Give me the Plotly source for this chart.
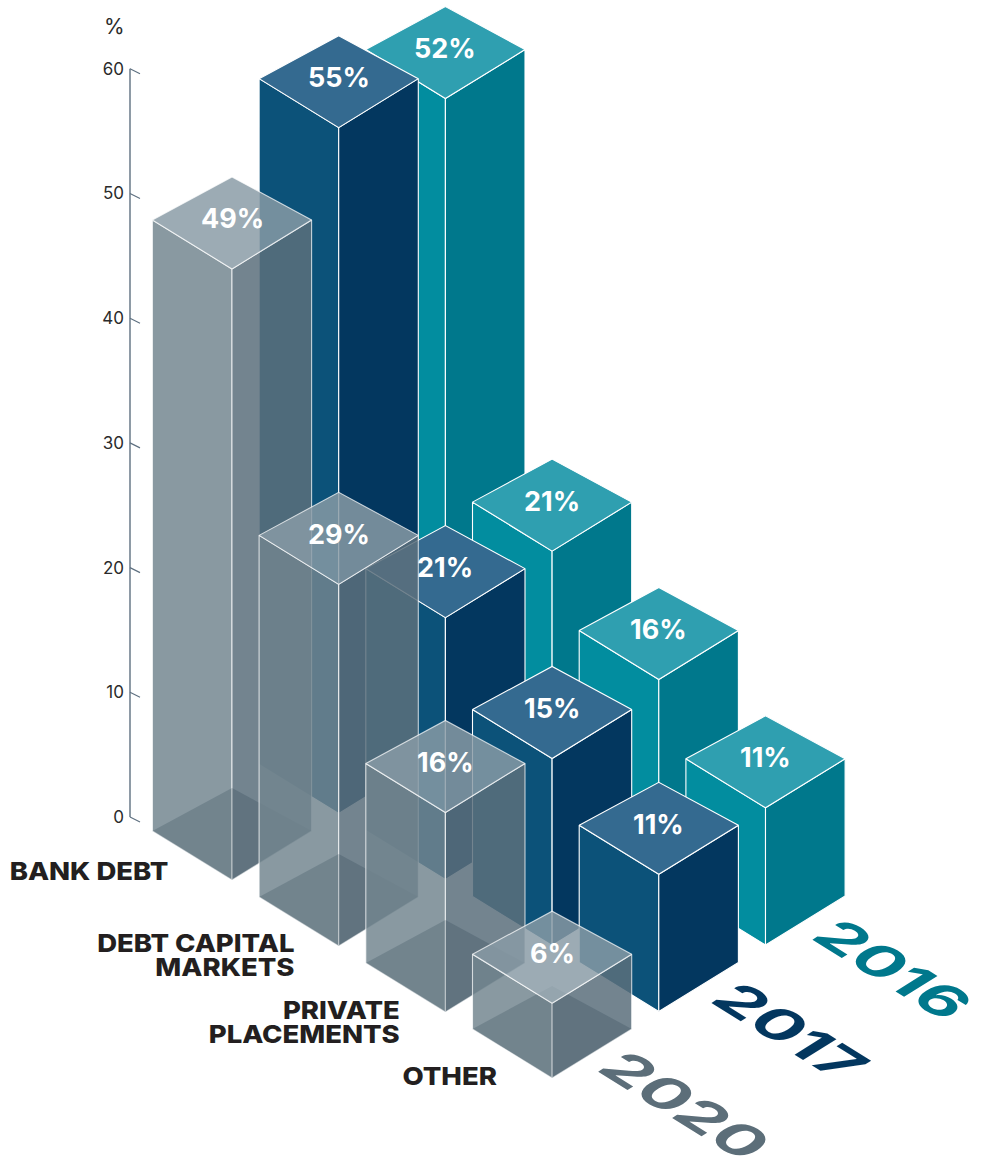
import plotly.graph_objects as go

# Chart data
CATEGORIES = ["BANK DEBT", "DEBT CAPITAL<br>MARKETS", "PRIVATE<br>PLACEMENTS", "OTHER"]
YEARS = ["2020", "2017", "2016"]
VALUES_2020 = [49, 29, 16, 6]
VALUES_2017 = [55, 21, 15, 11]
VALUES_2016 = [52, 21, 16, 11]
AXIS_TICKS = [0, 10, 20, 30, 40, 50, 60]

WIDTH, HEIGHT = 985, 1157
FONT = "Inter, Lato, sans-serif"

# Vertical scale: pixels per percentage point, and the pixel row of 0 %
PX_PER_PCT = 12.47
ZERO_ROW = 817


def pct(row):
    """Convert a page row into the percentage units of the y axis."""
    return (ZERO_ROW - row) / PX_PER_PCT


# Isometric layout of the bar grid
ORIGIN_X, ORIGIN_ROW = 232, 880     # front-bottom corner of the first bar
CAT_STEP = (106.7, 66.0)            # shift per category (towards the viewer)
SER_STEP = (106.7, -66.5)           # shift per series (away from the viewer)
HALF_W = 79.6
FRONT_RISE = 49
BACK_RISE = 92

SOLID = {
    "2016": {"left": "#028D9F", "right": "#00788C", "top": "#2F9FB0", "edge": "#FFFFFF"},
    "2017": {"left": "#0C5279", "right": "#03375F", "top": "#346A90", "edge": "#FFFFFF"},
}
GLASS = {"left": "rgba(114,133,143,0.835)", "right": "rgba(91,111,124,0.855)",
         "top": "rgba(137,155,166,0.84)", "edge": "rgba(255,255,255,0.72)",
         "floor": "rgba(23,49,67,0.2)"}
YEAR_COLORS = {"2016": "#00788C", "2017": "#03375F", "2020": "#5C6E79"}

fig = go.Figure()


def face(xs, ys, fill, edge):
    fig.add_trace(go.Scatter(
        x=xs + xs[:1], y=ys + ys[:1], mode="lines", fill="toself",
        fillcolor=fill, line=dict(color=edge, width=1.1),
        hoverinfo="skip", showlegend=False,
    ))


def bar(cat, ser, value, style):
    """Draw one box from its grid position and value."""
    fx = ORIGIN_X + CAT_STEP[0] * cat + SER_STEP[0] * ser
    base = pct(ORIGIN_ROW + CAT_STEP[1] * cat + SER_STEP[1] * ser)
    top = base + value
    fr = FRONT_RISE / PX_PER_PCT
    br = BACK_RISE / PX_PER_PCT
    left, right = fx - HALF_W, fx + HALF_W
    edge = style["edge"]
    face([left, fx, fx, left], [base + fr, base, top, top + fr], style["left"], edge)
    face([fx, right, right, fx], [base, base + fr, top + fr, top], style["right"], edge)
    if "floor" in style:
        face([fx, right, fx, left], [base, base + fr, base + br, base + fr],
             style["floor"], "rgba(255,255,255,0)")
    face([fx, right, fx, left], [top, top + fr, top + br, top + fr], style["top"], edge)
    fig.add_annotation(x=fx, y=top + 50 / PX_PER_PCT, text=f"{value}%",
                       showarrow=False, xanchor="center", yanchor="middle",
                       font=dict(family=FONT, size=27, weight=700, color="white"))


# Paint from the back row to the front row so the glass row overlays the rest
for ser, (year, values) in reversed(list(enumerate(zip(YEARS, [VALUES_2020, VALUES_2017, VALUES_2016])))):
    style = SOLID.get(year, GLASS)
    for cat, value in enumerate(values):
        bar(cat, ser, value, style)

# Value axis: a stem with short slanted ticks
AXIS_X = 130
fig.add_trace(go.Scatter(x=[AXIS_X, AXIS_X], y=[AXIS_TICKS[0], AXIS_TICKS[-1]], mode="lines",
                         line=dict(color="#5E7080", width=1.4), hoverinfo="skip", showlegend=False))
for t in AXIS_TICKS:
    fig.add_trace(go.Scatter(x=[AXIS_X, AXIS_X + 10], y=[t, t - 5 / PX_PER_PCT], mode="lines",
                             line=dict(color="#5E7080", width=1.2), hoverinfo="skip", showlegend=False))
fig.add_annotation(x=114, y=pct(26), text="%", showarrow=False,
                   font=dict(family=FONT, size=21, color="#2B2B2B"))

# Category captions, right-aligned beside the front row
CAPTION_RIGHT = [170, 296, 402, 499]
CAPTION_ROWS = [871, 955, 1022, 1076]
for caption, right, row in zip(CATEGORIES, CAPTION_RIGHT, CAPTION_ROWS):
    fig.add_annotation(x=right, y=pct(row), text=caption, showarrow=False,
                       xanchor="right", yanchor="middle", align="right",
                       font=dict(family=FONT, size=25, weight=800, color="#231F20"))

# Year captions; the script below lays them flat on the floor plane
YEAR_CENTERS = {"2016": (893, 969), "2017": (790, 1031), "2020": (685, 1105)}
for year, (cx, row) in YEAR_CENTERS.items():
    fig.add_annotation(x=cx, y=pct(row), text=year, showarrow=False,
                       xanchor="center", yanchor="middle",
                       font=dict(family=FONT, size=54, weight=700, color=YEAR_COLORS[year]))

fig.update_layout(
    width=WIDTH, height=HEIGHT, autosize=False,
    margin=dict(l=0, r=0, t=0, b=0),
    paper_bgcolor="white", plot_bgcolor="white", showlegend=False,
    xaxis=dict(range=[0, WIDTH], visible=False, fixedrange=True),
    yaxis=dict(range=[pct(HEIGHT), pct(0)], anchor="free", position=AXIS_X / WIDTH,
               tickvals=AXIS_TICKS, ticktext=[str(t) for t in AXIS_TICKS],
               ticks="", ticklabelstandoff=6, showgrid=False, zeroline=False, showline=False,
               fixedrange=True, tickfont=dict(family=FONT, size=17, color="#2B2B2B")),
)

# Lay the year captions on the isometric floor; tighten and widen the category captions
TEXT_SCRIPT = """
var a = 0.85 * 1.24, b = 0.53 * 1.24, c = -0.85, d = 0.53;
document.querySelectorAll('g.annotation text').forEach(function (t) {
    var s = t.textContent, box, cx, cy;
    if (/^(2016|2017|2020)$/.test(s)) {
        box = t.getBBox();
        cx = box.x + box.width / 2; cy = box.y + box.height / 2;
        t.setAttribute('transform', 'matrix(' + [a, b, c, d, cx - (a * cx + c * cy), cy - (b * cx + d * cy)].join(' ') + ')');
    } else if (/^[A-Z ]+$/.test(s)) {
        var lines = t.querySelectorAll('tspan.line');
        if (lines.length === 2) {
            var shift = (25 * 1.3 - 24) / 2;
            lines[1].setAttribute('dy', '24px');
            lines.forEach(function (l) {
                l.setAttribute('y', parseFloat(l.getAttribute('y')) + shift);
            });
        }
        box = t.getBBox();
        var sx = 1.1, right = box.x + box.width;
        t.setAttribute('transform', 'matrix(' + [sx, 0, 0, 1, right - sx * right, 0].join(' ') + ')');
    }
});
"""

fig.write_html("out.html", post_script=TEXT_SCRIPT, config={"displayModeBar": False})
